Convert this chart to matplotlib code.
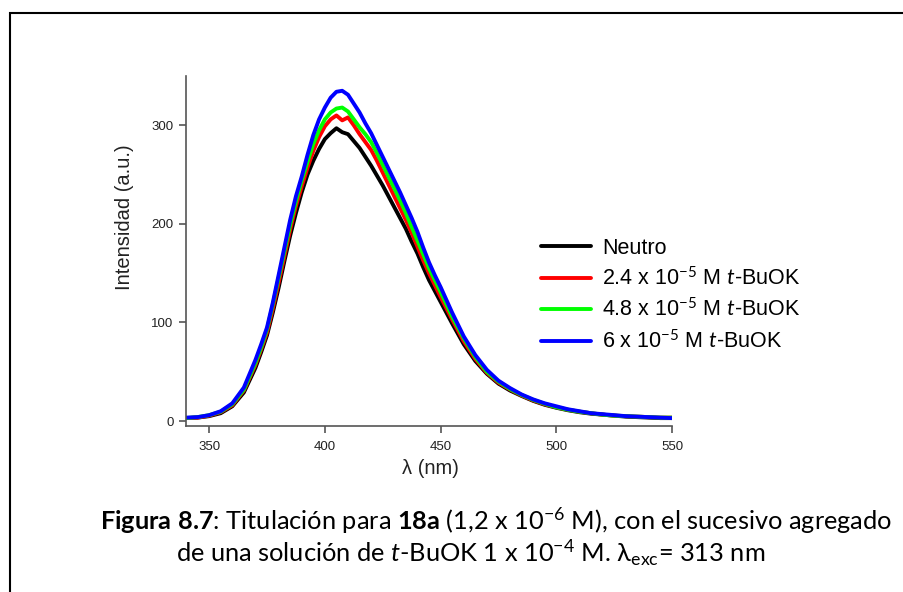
import matplotlib
matplotlib.use("Agg")
import matplotlib.pyplot as plt
from matplotlib.patches import Rectangle

# Emission spectra, t-BuOK titration of 18a (finer sampling around the band maximum)
wavelength = [340, 345, 350, 355, 360, 365, 370,
              372.5, 375, 377.5, 380, 382.5, 385, 387.5, 390, 392.5, 395,
              397.5, 400, 402.5, 405, 407.5, 410, 412.5, 415, 417.5, 420,
              422.5, 425, 427.5, 430, 432.5, 435, 437.5, 440, 442.5, 445,
              447.5, 450,
              455, 460, 465, 470, 475, 480, 485, 490, 495, 500,
              505, 510, 515, 520, 525, 530, 535, 540, 545, 550]

neutro = [3, 3.5, 5, 8, 15, 29, 54,
          70, 87, 110, 135, 162, 188, 211, 232, 250, 264,
          276, 286, 292, 297, 293, 291, 284, 277, 268, 259,
          249, 239, 228, 217, 206, 195, 182, 170, 156, 143,
          132, 121,
          99, 78, 61, 48, 38, 31, 25.5, 20.5, 16.5, 13.5,
          11, 9, 7.5, 6.5, 5.5, 4.5, 4, 3.5, 3, 3]
tbuok_24 = [3, 3.5, 5.5, 9, 16, 31, 57,
            73, 90, 114, 140, 167, 194, 218, 238, 257, 274,
            288, 299, 306, 310, 305, 308, 300, 291, 283, 275,
            264, 252, 240, 228, 216, 204, 191, 177, 163, 150,
            138, 126,
            103, 81, 63, 49, 39, 32, 26, 21, 17, 14,
            11.5, 9.5, 8, 6.5, 5.5, 5, 4.5, 4, 3.5, 3.5]
tbuok_48 = [3, 4, 6, 9.5, 17, 32, 59,
            75, 93, 118, 145, 172, 199, 223, 244, 263, 281,
            295, 306, 313, 317, 318, 314, 306, 298, 291, 283,
            272, 260, 248, 236, 224, 211, 197, 183, 169, 155,
            143, 131,
            106, 84, 65, 50, 40, 32.5, 26.5, 21.5, 17.5, 14,
            11.5, 9.5, 8, 6.5, 5.5, 5, 4.5, 4, 3.5, 3.5]
tbuok_60 = [3.5, 4, 6, 10, 18, 34, 62,
            78, 95, 120, 148, 176, 204, 228, 248, 270, 290,
            306, 318, 328, 334, 335, 331, 322, 313, 302, 292,
            280, 268, 256, 244, 232, 219, 206, 192, 176, 161,
            148, 136,
            110, 86, 67, 52, 41, 33.5, 27, 22, 18, 15,
            12, 10, 8, 7, 6, 5, 4.5, 4, 3.5, 3]

series = [neutro, tbuok_24, tbuok_48, tbuok_60]
labels = ["Neutro",
          r"2.4 x 10$^{-5}$ M $\mathit{t}$-BuOK",
          r"4.8 x 10$^{-5}$ M $\mathit{t}$-BuOK",
          r"6 x 10$^{-5}$ M $\mathit{t}$-BuOK"]
colors = ["#000000", "#ff0000", "#00ff00", "#0000ff"]

plt.rcParams["font.family"] = ["Liberation Sans", "DejaVu Sans"]
plt.rcParams["mathtext.fontset"] = "custom"
plt.rcParams["mathtext.rm"] = "Lato"
plt.rcParams["mathtext.it"] = "Lato:italic"
plt.rcParams["mathtext.bf"] = "Lato:bold"

W, H = 904, 592
fig = plt.figure(figsize=(W / 100, H / 100), dpi=100)
ax = fig.add_axes([186 / W, 1 - 426 / H, (672 - 186) / W, (426 - 76) / H])

for y, lab, c in zip(series, labels, colors):
    ax.plot(wavelength, y, color=c, lw=2.8, label=lab,
            solid_capstyle="round", solid_joinstyle="round")

ax.set_xlim(340, 550)
ax.set_ylim(-5, 350)
ax.set_xticks([350, 400, 450, 500, 550])
ax.set_yticks([0, 100, 200, 300])
for side in ["top", "right"]:
    ax.spines[side].set_visible(False)
for side in ["left", "bottom"]:
    ax.spines[side].set_color("#555555")
    ax.spines[side].set_linewidth(1.2)
ax.tick_params(axis="both", colors="#555555", labelcolor="#222222",
               labelsize=9.5, length=5, width=1.2)
ax.tick_params(axis="x", pad=6)
ax.tick_params(axis="y", pad=4)

fig.text(125 / W, 1 - 217 / H, "Intensidad (a.u.)", rotation=90,
         ha="center", va="center", fontsize=14.5, color="#222222")
fig.text(430 / W, 1 - 468 / H, "λ (nm)", ha="center", va="center",
         fontsize=14.5, color="#222222")

leg = ax.legend(loc="upper left", bbox_to_anchor=(541 / W, 1 - 238 / H),
                bbox_transform=fig.transFigure, frameon=False,
                fontsize=15.5, handlelength=2.3, handletextpad=0.55,
                labelspacing=0.38, borderpad=0, borderaxespad=0)

cap = ["Lato", "DejaVu Sans"]
fig.text(496 / W, 1 - 521 / H,
         r"$\mathbf{Figura\ 8.7}$: Titulación para $\mathbf{18a}$ (1,2 x 10$^{-6}$ M), con el sucesivo agregado",
         ha="center", va="center", fontsize=18.3, family=cap)
fig.text(471 / W, 1 - 553 / H,
         r"de una solución de $\mathit{t}$-BuOK 1 x 10$^{-4}$ M. λ$_{\mathrm{exc}}$= 313 nm",
         ha="center", va="center", fontsize=18.3, family=cap)

# page frame
fig.add_artist(Rectangle((10 / W, -0.1), 1.2, 1 - 13 / H + 0.1,
                         transform=fig.transFigure, fill=False,
                         edgecolor="black", lw=1.5))

fig.savefig("out.png", dpi=100)
